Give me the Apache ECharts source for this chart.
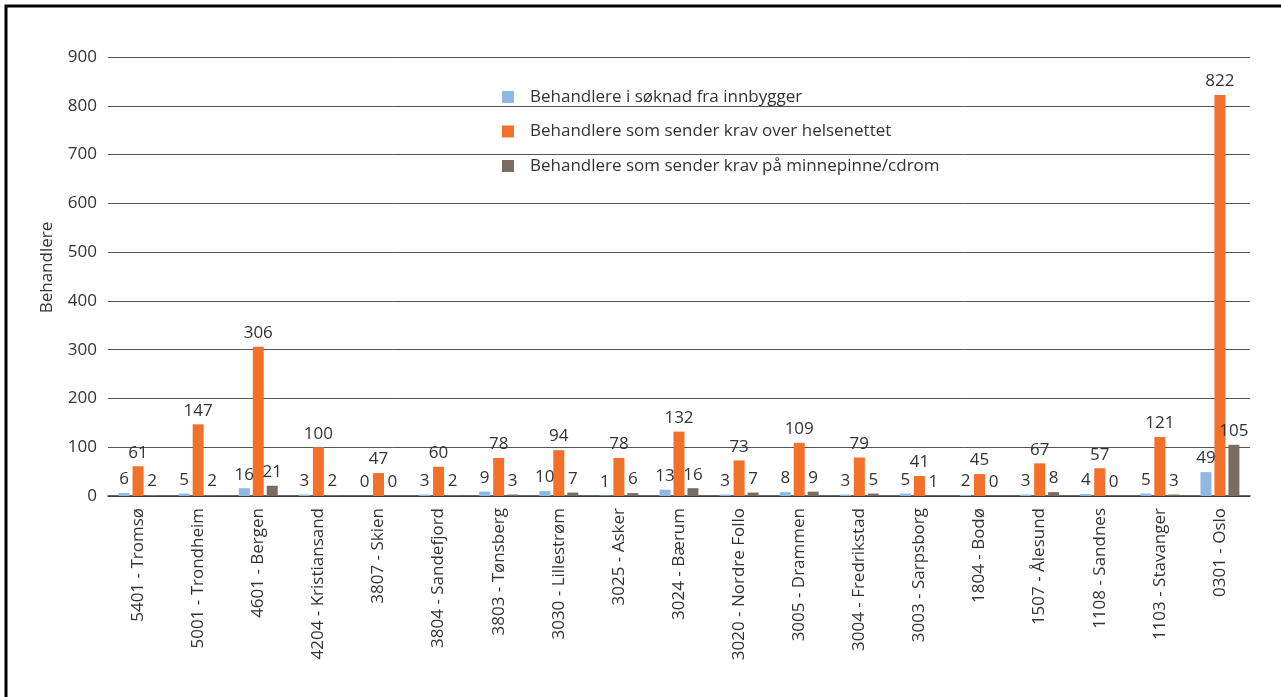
<!DOCTYPE html>
<html>
<head>
<meta charset="utf-8">
<script src="https://cdn.jsdelivr.net/npm/echarts@6/dist/echarts.min.js"></script>
<style>
html,body{margin:0;padding:0;background:#fff;}
#c{width:1281px;height:697px;}
</style>
</head>
<body>
<div id="c"></div>
<script>
const categories = ['5401 - Tromsø','5001 - Trondheim','4601 - Bergen','4204 - Kristiansand','3807 - Skien','3804 - Sandefjord','3803 - Tønsberg','3030 - Lillestrøm','3025 - Asker','3024 - Bærum','3020 - Nordre Follo','3005 - Drammen','3004 - Fredrikstad','3003 - Sarpsborg','1804 - Bodø','1507 - Ålesund','1108 - Sandnes','1103 - Stavanger','0301 - Oslo'];
const seriesNames = ['Behandlere i søknad fra innbygger','Behandlere som sender krav over helsenettet','Behandlere som sender krav på minnepinne/cdrom'];
const innbygger = [6,5,16,3,0,3,9,10,1,13,3,8,3,5,2,3,4,5,49];
const helsenett = [61,147,306,100,47,60,78,94,78,132,73,109,79,41,45,67,57,121,822];
const minnepinne = [2,2,21,2,0,2,3,7,6,16,7,9,5,1,0,8,0,3,105];
const yTicks = {min:0, max:900, interval:100};
const yName = 'Behandlere';

const FONT = 'Open Sans';
const FS = 17;
const colors = ['#8DB9E3','#F2702A','#786C63'];
const chart = echarts.init(document.getElementById('c'));
function mk(name, data, i){
  return {
    name, type:'bar', data, barWidth:11, barGap:'27%',
    itemStyle:{color:colors[i]},
    label:{show:true, position:'top', distance:5, color:'#333', fontFamily:FONT, fontSize:FS}
  };
}
chart.setOption({
  animation:false,
  textStyle:{fontFamily:FONT},
  graphic:[{type:'rect', shape:{x:6,y:6,width:1400,height:800}, style:{fill:null, stroke:'#000', lineWidth:3}, silent:true}],
  grid:{left:108, right:31, top:57, bottom:201},
  legend:{
    orient:'vertical', left:497, top:82, itemWidth:12, itemHeight:12, itemGap:14.5,
    icon:'rect',
    textStyle:{fontFamily:FONT, fontSize:FS, color:'#333', lineHeight:20, padding:[0,0,0,11]},
    data:seriesNames
  },
  xAxis:{
    type:'category', data:categories,
    axisLine:{lineStyle:{color:'#333', width:1.5}},
    axisTick:{show:false},
    axisLabel:{rotate:90, interval:0, margin:12, color:'#333', fontFamily:FONT, fontSize:FS}
  },
  yAxis:{
    type:'value', min:yTicks.min, max:yTicks.max, interval:yTicks.interval,
    name:yName, nameLocation:'middle', nameGap:52, nameRotate:90,
    nameTextStyle:{color:'#333', fontFamily:FONT, fontSize:FS, padding:[0,0,0,18]},
    axisLine:{show:false}, axisTick:{show:false},
    axisLabel:{margin:11, color:'#333', fontFamily:FONT, fontSize:FS},
    splitLine:{lineStyle:{color:'#555', width:1}}
  },
  series:[mk(seriesNames[0],innbygger,0), mk(seriesNames[1],helsenett,1), mk(seriesNames[2],minnepinne,2)]
});
</script>
</body>
</html>
